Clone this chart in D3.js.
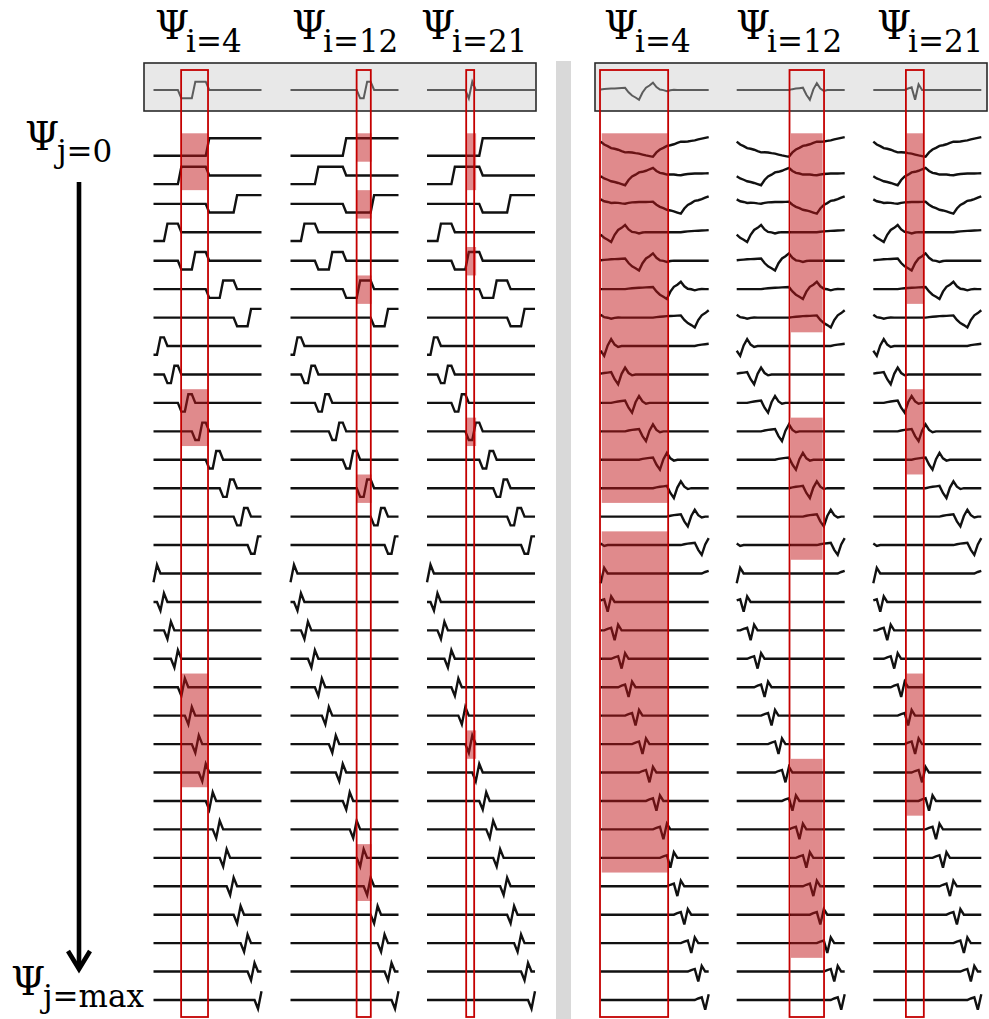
<!DOCTYPE html>
<html><head><meta charset="utf-8">
<script src="https://cdn.jsdelivr.net/npm/d3@7"></script>
<style>body{margin:0;background:#fff}svg{display:block}</style>
</head><body>
<svg id="chart" width="989" height="1019"></svg>
<script>
// ---------- data ----------
// level (1 = finest) and position of each of the 31 wavelet rows
const rowLevel = [5, 4,4, 3,3,3,3, 2,2,2,2,2,2,2,2, 1,1,1,1,1,1,1,1,1,1,1,1,1,1,1,1];
const rowPos   = [0, 0,1, 0,1,2,3, 0,1,2,3,4,5,6,7, 0,1,2,3,4,5,6,7,8,9,10,11,12,13,14,15];
// translation (in samples) per position step, by level
const levelStep = {1:2, 2:4, 3:8, 4:16, 5:32};

// Haar prototypes (position 0), 32 samples each
const haarL1 = [-1,1,0,0,0,0,0,0,0,0,0,0,0,0,0,0,0,0,0,0,0,0,0,0,0,0,0,0,0,0,0,0];
const haarL2 = [-1,-1,1,1,0,0,0,0,0,0,0,0,0,0,0,0,0,0,0,0,0,0,0,0,0,0,0,0,0,0,0,0];
const haarL3 = [-1,-1,-1,-1,1,1,1,1,0,0,0,0,0,0,0,0,0,0,0,0,0,0,0,0,0,0,0,0,0,0,0,0];
const haarL4 = [-1,-1,-1,-1,-1,-1,-1,-1,1,1,1,1,1,1,1,1,0,0,0,0,0,0,0,0,0,0,0,0,0,0,0,0];
const haarL5 = [-1,-1,-1,-1,-1,-1,-1,-1,-1,-1,-1,-1,-1,-1,-1,-1,1,1,1,1,1,1,1,1,1,1,1,1,1,1,1,1];

// Daubechies-2 prototypes (position 0), 32 samples each (periodic)
const dbL1 = [-0.837,0.483,0,0,0,0,0,0,0,0,0,0,0,0,0,0,0,0,0,0,0,0,0,0,0,0,0,0,0,0,0.129,0.224];
const dbL2 = [-0.354,-0.729,0.046,0.512,0.108,-0.063,0,0,0,0,0,0,0,0,0,0,0,0,0,0,0,0,0,0,0,0,0,0,0.063,0.108,0.137,0.171];
const dbL3 = [-0.133,-0.318,-0.431,-0.564,-0.141,0.133,0.258,0.423,0.167,0.024,-0.006,-0.066,-0.014,0.008,0,0,0,0,0,0,0,0,0,0,0.030,0.052,0.066,0.082,0.091,0.101,0.113,0.125];
const dbL4 = [-0.036,-0.127,-0.183,-0.249,-0.280,-0.320,-0.369,-0.416,-0.195,-0.045,0.032,0.129,0.154,0.198,0.262,0.320,0.190,0.110,0.081,0.038,0.046,0.041,0.021,0.006,0.041,0.062,0.070,0.081,0.079,0.081,0.086,0.090];
const dbL5 = [0.166,0.076,0.026,-0.034,-0.053,-0.083,-0.125,-0.163,-0.160,-0.168,-0.187,-0.203,-0.230,-0.255,-0.276,-0.298,-0.166,-0.076,-0.026,0.034,0.053,0.083,0.125,0.163,0.160,0.168,0.187,0.203,0.230,0.255,0.276,0.298];

// column headers: selected wavelet index i
const headerIndex = [4, 12, 21];
const headerLabels = ["i=4", "i=12", "i=21"];

// highlighted rows per column
const haarHighlight = [[0,1,9,10,19,20,21,22], [0,2,5,12,25,26], [0,1,4,10,21]];
const dbHighlight = [
  [0,1,2,3,4,5,6,7,8,9,10,11,12,14,15,16,17,18,19,20,21,22,23,24,25],
  [0,1,2,3,4,5,6,10,11,12,13,14,22,23,24,25,26,27,28],
  [0,1,2,3,4,5,9,10,11,19,20,21,22,23]
];
// red outline and fill extents in sample units
const haarOutline = [[7.93,15.65],[18.98,23.05],[11.25,13.54]];
const haarFill    = [[8.1,15.75],[19.1,23.3],[11.5,14.1]];
const dbOutline   = [[-0.2,19.36],[15.16,25.07],[9.36,14.5]];
const dbFill      = [[0.3,19.2],[15.56,24.67],[9.56,14.3]];

// ---------- layout ----------
const svg = d3.select("#chart");
const N = 32;
const rowY = d3.scaleLinear().domain([0, 30]).range([147, 1000]);
const panels = [
  {protos:{1:haarL1,2:haarL2,3:haarL3,4:haarL4,5:haarL5}, cols:[153.5,290.5,427], width:108,
   box:[144,63,392,48], amp:8.7, topAmp:8.3, highlight:haarHighlight, outline:haarOutline, fill:haarFill,
   headX:[155,292,421]},
  {protos:{1:dbL1,2:dbL2,3:dbL3,4:dbL4,5:dbL5}, cols:[600.7,736.7,873.3], width:108,
   box:[595,63,392,48], amp:9.8, topAmp:9.8, highlight:dbHighlight, outline:dbOutline, fill:dbFill,
   headX:[604,736,877]}
];

function rowValues(p, r) {
  const proto = p.protos[rowLevel[r]];
  const shift = rowPos[r] * levelStep[rowLevel[r]];
  const m = d3.max(proto, v => Math.abs(v));
  return d3.range(N).map(n => proto[((n - shift) % N + N) % N] / m);
}
function runs(list) {
  const out = [];
  list.forEach(r => {
    if (out.length && out[out.length-1][1] === r - 1) out[out.length-1][1] = r;
    else out.push([r, r]);
  });
  return out;
}

// separator
svg.append("rect").attr("x", 556).attr("y", 61).attr("width", 15).attr("height", 958).attr("fill", "#d9d9d9");

panels.forEach(p => {
  // gray box
  svg.append("rect").attr("x", p.box[0]).attr("y", p.box[1]).attr("width", p.box[2]).attr("height", p.box[3])
    .attr("fill", "#e8e8e8").attr("stroke", "#2a2a2a").attr("stroke-width", 1.6);
  p.cols.forEach((cx, c) => {
    const x = d3.scaleLinear().domain([0, N - 1]).range([cx, cx + p.width]);
    // top signal
    const topY = d3.scaleLinear().domain([-1, 1]).range([90 + p.topAmp, 90 - p.topAmp]);
    svg.append("path").datum(rowValues(p, headerIndex[c]))
      .attr("d", d3.line().x((d, i) => x(i)).y(d => topY(d)))
      .attr("fill", "none").attr("stroke", "#5c5c5c").attr("stroke-width", 2);
    // rows
    for (let r = 0; r < 31; r++) {
      const y = d3.scaleLinear().domain([-1, 1]).range([rowY(r) + p.amp, rowY(r) - p.amp]);
      svg.append("path").datum(rowValues(p, r))
        .attr("d", d3.line().x((d, i) => x(i)).y(d => y(d)))
        .attr("fill", "none").attr("stroke", "#111").attr("stroke-width", 2.4)
        .attr("stroke-linejoin", "miter");
    }
    // fills
    runs(p.highlight[c]).forEach(([a, b]) => {
      svg.append("rect")
        .attr("x", x(p.fill[c][0])).attr("width", x(p.fill[c][1]) - x(p.fill[c][0]))
        .attr("y", rowY(a) - 13.7).attr("height", rowY(b) - rowY(a) + 28.4)
        .attr("fill", "#c11519").attr("fill-opacity", 0.5);
    });
    // outline
    svg.append("rect")
      .attr("x", x(p.outline[c][0])).attr("width", x(p.outline[c][1]) - x(p.outline[c][0]))
      .attr("y", 70).attr("height", 947)
      .attr("fill", "none").attr("stroke", "#c40000").attr("stroke-width", 1.8);
    // header
    const hx = p.headX[c];
    svg.append("text").attr("x", hx).attr("y", 39).text("Ψ")
      .attr("font-family", "DejaVu Serif").attr("font-size", 39).attr("fill", "#000");
    svg.append("text").attr("x", hx + 31).attr("y", 52).text(headerLabels[c])
      .attr("font-family", "DejaVu Serif").attr("font-size", 31).attr("fill", "#000");
  });
});

// left labels
function label(x, y, sub) {
  svg.append("text").attr("x", x).attr("y", y).text("Ψ")
    .attr("font-family", "DejaVu Serif").attr("font-size", 39).attr("fill", "#000");
  svg.append("text").attr("x", x + 32).attr("y", y + 12).text(sub)
    .attr("font-family", "DejaVu Serif").attr("font-size", 31).attr("fill", "#000");
}
label(25, 150, "j=0");
label(11, 995, "j=max");

// arrow
svg.append("line").attr("x1", 79).attr("y1", 182).attr("x2", 79).attr("y2", 966)
  .attr("stroke", "#000").attr("stroke-width", 4.6);
svg.append("path").attr("d", "M68,951 L79,969 L90,951")
  .attr("fill", "none").attr("stroke", "#000").attr("stroke-width", 4.6).attr("stroke-linejoin", "miter");
</script>
</body></html>
